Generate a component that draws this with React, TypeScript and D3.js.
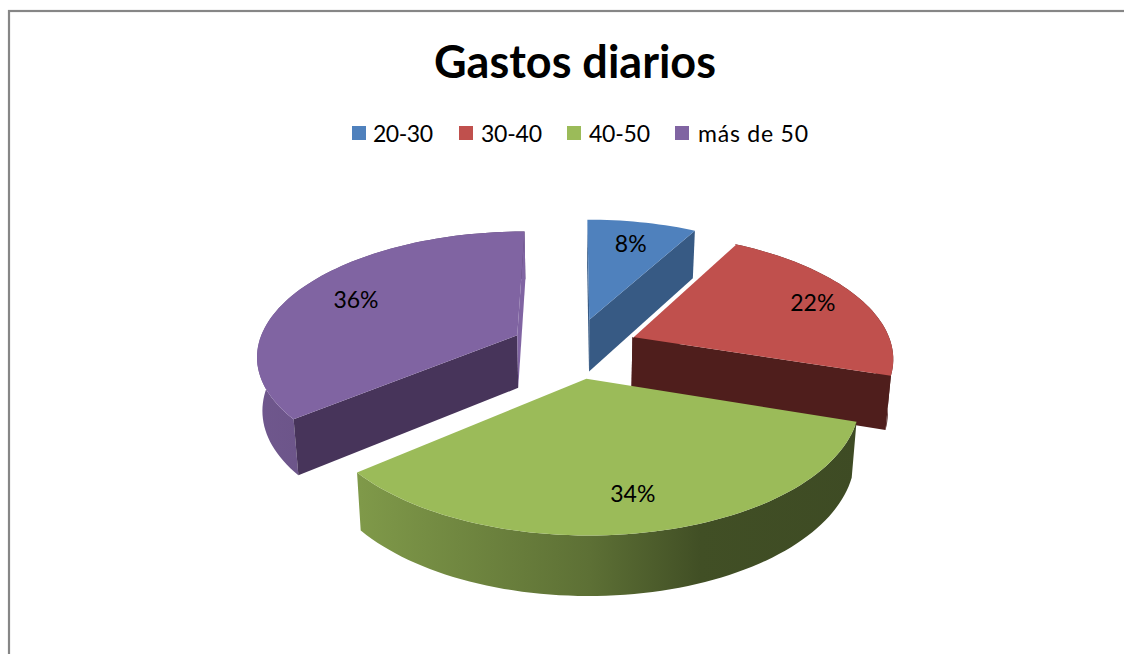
import React from 'react';
import * as d3 from 'd3';

// Chart data
const categories = ['20-30', '30-40', '40-50', 'más de 50'];
const shares = [8, 22, 34, 36];
const topColors = ['#4f81bd', '#c0504d', '#9bbb59', '#8064a2'];
const faceColors = ['#375a84', '#4f1e1c', '#55672f', '#47345a'];
const title = 'Gastos diarios';

// Painter's order, far slices first
const drawOrder = [0, 3, 1, 2];
// How far out along the slice each label sits
const labelRadius = [0.76, 0.8, 0.78, 0.74];
const legendX = [352, 459, 567, 675];
const legendTextX = [373, 481, 589, 698];
const legendTextLength = [60, 61, 61, 110];

// Projection of the tilted pie
const cx = 574;
const cy = 348;
const R = 260;
const Rk = 123;
const perspX = 0.15;
const perspY = 0.15;
const perspDepth = 0.1;
const explode = 0.245;
const depth = 53;

const project = (u: number, v: number, down = false): [number, number] => {
  const x = cx + (R * u) / (1 - perspX * v);
  const y = cy + (Rk * v) / (1 - perspY * v);
  return down
    ? [cx + (x - cx) * 0.983, y + depth / (1 - perspDepth * v)]
    : [x, y];
};

const arcs = d3
  .pie<number>()
  .sort(null)
  .startAngle(0)
  .endAngle(2 * Math.PI)(shares);

// Rim shading runs left to right across the whole pie
const shadeStops: [number, number][] = [
  [257, 0.87],
  [360, 0.82],
  [590, 0.6],
  [700, 0.42],
  [860, 0.4],
];
const shadeScale = d3.scaleLinear().domain([257, 860]).range([0, 1]);

const line = d3.line();

const App = () => {
  const slices = arcs.map((arc, i) => {
    const mid = (arc.startAngle + arc.endAngle) / 2;
    const ox = explode * Math.sin(mid);
    const oy = -explode * Math.cos(mid);
    const angles = d3.range(arc.startAngle, arc.endAngle, 0.03).concat(arc.endAngle);
    const rim = (down: boolean) =>
      angles.map(a => project(ox + Math.sin(a), oy - Math.cos(a), down));
    const top = rim(false);
    const bottom = rim(true);
    const apexTop = project(ox, oy);
    const apexBottom = project(ox, oy, true);
    const lr = labelRadius[i];
    const label = project(ox + lr * Math.sin(mid), oy - lr * Math.cos(mid));
    return {
      i,
      topPath: line([apexTop, ...top]) + 'Z',
      rimPath: line([...top, ...bottom.slice().reverse()]) + 'Z',
      startFace:
        line([apexTop, top[0], bottom[0], apexBottom]) + 'Z',
      endFace:
        line([apexTop, top[top.length - 1], bottom[bottom.length - 1], apexBottom]) + 'Z',
      startEdge: line([apexTop, top[0]]) as string,
      label,
    };
  });

  return (
    <svg
      width={1124}
      height={654}
      style={{ position: 'absolute', left: 0, top: 0, display: 'block', fontFamily: 'Lato' }}
    >
      <defs>
        {topColors.map((c, i) => (
          <linearGradient
            key={i}
            id={`rim${i}`}
            gradientUnits="userSpaceOnUse"
            x1={257}
            x2={860}
            y1={0}
            y2={0}
          >
            {shadeStops.map(([x, k]) => {
              const col = d3.rgb(c);
              const shaded = d3.rgb(col.r * k, col.g * k, col.b * k);
              return (
                <stop key={x} offset={shadeScale(x)} stopColor={shaded.formatHex()} />
              );
            })}
          </linearGradient>
        ))}
      </defs>

      {/* Chart frame, runs off the right and bottom of the picture */}
      <rect x={9} y={11} width={1130} height={660} fill="#fff" stroke="#868686" strokeWidth={2.2} />

      <text x={575} y={78} textAnchor="middle" fontSize={45} fontWeight={700} fill="#000">
        {title}
      </text>

      {categories.map((c, i) => (
        <g key={c}>
          <rect x={legendX[i]} y={126} width={14} height={14} fill={topColors[i]} />
          <text
            x={legendTextX[i]}
            y={142}
            fontSize={23}
            fill="#000"
            textLength={legendTextLength[i]}
            lengthAdjust="spacing"
          >
            {c}
          </text>
        </g>
      ))}

      {drawOrder.map(idx => {
        const s = slices[idx];
        return (
          <g key={idx}>
            {/* the blue rim faces away, only its cut face shows */}
            {idx !== 0 && <path d={s.rimPath} fill={`url(#rim${idx})`} />}
            {/* the green cut faces are hidden, the purple back one is only a sliver in the top colour */}
            {idx !== 2 && <path d={s.startFace} fill={faceColors[idx]} />}
            {idx !== 2 && (
              <path d={s.endFace} fill={idx === 3 ? topColors[idx] : faceColors[idx]} />
            )}
            <path d={s.topPath} fill={topColors[idx]} />
            {idx === 1 && <path d={s.startEdge} fill="none" stroke="#fff" strokeWidth={2} />}
          </g>
        );
      })}

      {slices.map(s => (
        <text
          key={s.i}
          x={s.label[0]}
          y={s.label[1]}
          dy="0.35em"
          textAnchor="middle"
          fontSize={23}
          fill="#000"
        >
          {shares[s.i]}%
        </text>
      ))}
    </svg>
  );
};

export default App;
